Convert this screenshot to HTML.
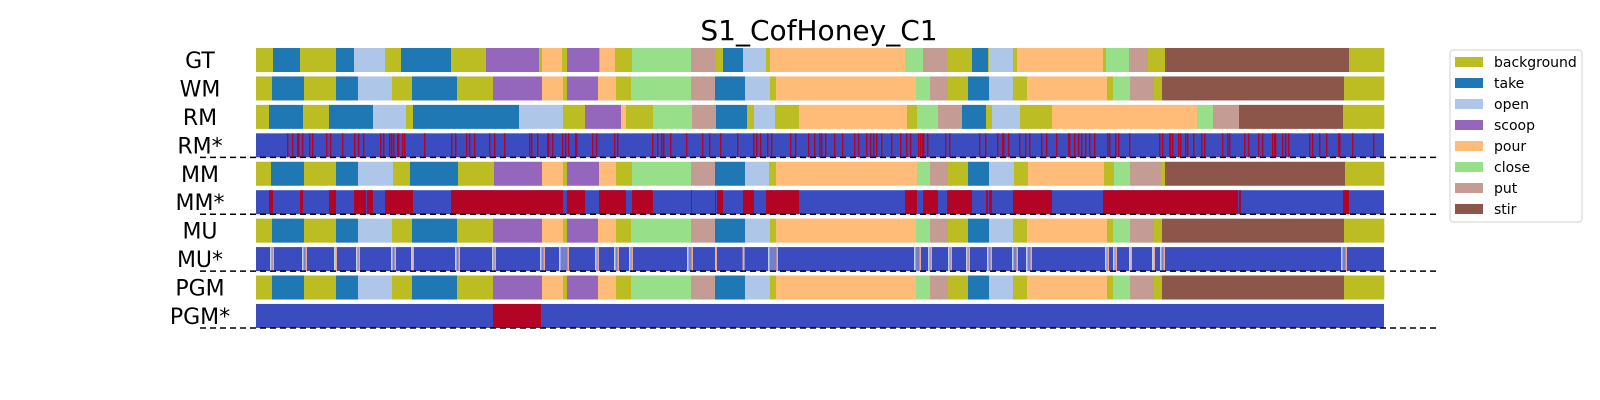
<!DOCTYPE html>
<html><head><meta charset="utf-8"><style>
html,body{margin:0;padding:0;background:#fff;}
svg{display:block;font-family:"DejaVu Sans","Liberation Sans",sans-serif;}
</style></head><body>
<svg id="chart" width="1600" height="400" viewBox="0 0 1600 400">
<text x="819" y="40" font-size="28" text-anchor="middle" fill="#000">S1_CofHoney_C1</text>
<g id="rows"></g>
<g id="legend"></g>
</svg>
<script>
const classNames = ["background","take","open","scoop","pour","close","put","stir"];
const classColors = ["#bcbd22","#1f77b4","#aec7e8","#9467bd","#ffbb78","#98df8a","#c49c94","#8c564b"];
const rowNames = ["GT","WM","RM","RM*","MM","MM*","MU","MU*","PGM","PGM*"];
const totalFrames = 1128;

const gtStarts = [0,17,44,80,98,129,145,195,230,283,286,306,311,343,344,359,376,435,459,467,487,510,514,649,667,691,716,732,733,757,761,847,850,873,892,909,1093];
const gtLabels = [0,1,0,1,2,0,1,0,3,0,4,0,3,0,4,0,5,6,0,1,2,0,4,5,6,0,1,0,2,0,4,0,5,6,0,7,0];
const wmStarts = [0,16,48,80,102,136,156,201,237,286,307,311,342,360,375,435,459,489,514,520,660,674,692,712,733,757,771,851,857,874,898,906,1088];
const wmLabels = [0,1,0,1,2,0,1,0,3,4,0,3,4,0,5,6,1,2,0,4,5,6,0,1,2,0,4,0,5,6,0,7,0];
const rmStarts = [0,13,47,73,117,150,157,263,307,329,365,370,397,436,460,491,498,519,543,651,661,682,706,730,736,764,796,941,957,983,1087];
const rmLabels = [0,1,0,1,2,0,1,2,0,3,4,0,5,6,1,0,2,0,4,0,5,6,1,0,2,0,4,5,6,7,0];
const mmStarts = [0,15,48,80,102,137,154,202,238,286,307,311,343,360,376,435,459,489,513,520,661,674,692,712,733,758,772,848,858,874,905,909,1089];
const mmLabels = [0,1,0,1,2,0,1,0,3,4,0,3,4,0,5,6,1,2,0,4,5,6,0,1,2,0,4,0,5,6,0,7,0];
const muStarts = wmStarts.slice();
const muLabels = wmLabels.slice();
const pgmStarts = wmStarts.slice();
const pgmLabels = wmLabels.slice();

const rmErrFrames = [31,36,41,42,46,53,56,70,74,86,98,102,107,124,127,133,135,137,141,142,146,148,168,195,199,210,213,218,233,238,248,273,275,281,291,292,296,306,309,312,319,320,336,340,358,361,396,401,405,407,414,430,446,453,464,481,497,500,504,511,515,534,539,552,558,563,565,569,578,586,598,602,610,614,617,620,625,635,644,650,654,662,664,666,667,671,689,693,723,729,741,746,747,752,763,769,773,785,790,800,812,813,818,822,825,829,833,838,851,853,859,862,873,903,906,913,914,916,922,924,929,931,937,945,948,966,971,973,988,992,1002,1006,1016,1018,1019,1026,1029,1032,1053,1056,1063,1070,1082,1083,1096,1117];
const mmErrStart = [13,44,73,98,111,129,195,311,343,376,435,459,461,487,510,649,667,691,730,733,757,847,983,1087];
const mmErrEnd   = [17,47,80,110,117,157,307,329,370,397,436,460,467,498,543,661,682,716,732,736,796,982,985,1093];
const muUncStart = [14,46,78,100,135,155,199,236,284,303,339,358,373,431,459,487,512,658,672,692,710,731,756,770,849,857,873,896,904,1085];
const muUncEnd   = [18,51,81,104,140,158,204,240,289,313,343,363,377,437,461,488,522,665,676,696,714,736,762,776,853,861,876,899,909,1091];
const pgmErrStart = [237];
const pgmErrEnd = [285];

const NS = "http://www.w3.org/2000/svg";
const X0 = 256, X1 = 1384, ROW0 = 48, PITCH = 28.44, RH = 24;
const xs = f => X0 + (f / totalFrames) * (X1 - X0);
const ys = i => ROW0 + i * PITCH;
const rowsG = document.getElementById('rows');
const BLUE = "#3b4cc0", RED = "#b40426";

function mk(tag, attrs, parent) {
  const e = document.createElementNS(NS, tag);
  for (const k in attrs) e.setAttribute(k, attrs[k]);
  parent.appendChild(e);
  return e;
}

function drawLabel(i) {
  const t = mk('text', {x: 200, y: ys(i) + RH/2 + 8, 'font-size': 22, 'text-anchor': 'middle', fill: '#000'}, rowsG);
  t.textContent = rowNames[i];
  
  
}

function drawSeg(i, starts, labels) {
  const g = mk('g', {}, rowsG);
  
  
  for (let k = 0; k < starts.length; k++) {
    const s = starts[k], e = k + 1 < starts.length ? starts[k+1] : totalFrames;
    const r = mk('rect', {x: xs(s), y: ys(i), width: Math.max(0.5, xs(e) - xs(s)) + 0.3, height: RH, fill: classColors[labels[k]]}, g);
    
    
  }
}

function drawStarBase(i) {
  const g = mk('g', {}, rowsG);
  
  
  const r = mk('rect', {x: xs(0), y: ys(i), width: xs(totalFrames) - xs(0), height: RH, fill: BLUE}, g);
  
  
  const l = mk('line', {x1: 200, x2: 1440, y1: ys(i) + RH, y2: ys(i) + RH, stroke: '#000', 'stroke-width': 1.5, 'stroke-dasharray': '6,4'}, rowsG);
  
  
  return g;
}

function drawSpans(g, i, st, en, color) {
  for (let k = 0; k < st.length; k++) {
    const r = mk('rect', {x: xs(st[k]), y: ys(i), width: xs(en[k]) - xs(st[k]), height: RH, fill: color}, g);
    
    
  }
}

for (let i = 0; i < rowNames.length; i++) drawLabel(i);
drawSeg(0, gtStarts, gtLabels);
drawSeg(1, wmStarts, wmLabels);
drawSeg(2, rmStarts, rmLabels);
let g3 = drawStarBase(3);
for (const f of rmErrFrames) {
  const r = mk('rect', {x: xs(f), y: ys(3), width: 1.4, height: RH, fill: RED}, g3);
  
  
}
drawSeg(4, mmStarts, mmLabels);
let g5 = drawStarBase(5);
drawSpans(g5, 5, mmErrStart, mmErrEnd, RED);
drawSeg(6, muStarts, muLabels);
let g7 = drawStarBase(7);
for (let k = 0; k < muUncStart.length; k++) {
  const a = muUncStart[k], b = muUncEnd[k];
  const r1 = mk('rect', {x: xs(a), y: ys(7), width: 1.5, height: RH, fill: '#b9d0f9'}, g7);
  
  
  const r3 = mk('rect', {x: xs(a) + 1.5, y: ys(7), width: Math.max(0, xs(b) - xs(a) - 3), height: RH, fill: '#e8e0dc', opacity: 0.35}, g7);
  
  
  const r2 = mk('rect', {x: xs(b) - 1.5, y: ys(7), width: 1.5, height: RH, fill: '#f4a582'}, g7);
  
  
}
drawSeg(8, pgmStarts, pgmLabels);
let g9 = drawStarBase(9);
drawSpans(g9, 9, pgmErrStart, pgmErrEnd, RED);

// legend
const lg = document.getElementById('legend');
const box = mk('rect', {x: 1450, y: 50, width: 132, height: 172, rx: 3, fill: '#fff', stroke: '#d0d0d0', 'stroke-width': 1}, lg);


for (let k = 0; k < classNames.length; k++) {
  const cy = 62 + k * 21;
  const eg = mk('g', {}, lg);
  
  
  const sw = mk('rect', {x: 1455, y: cy - 5, width: 28, height: 10, fill: classColors[k]}, eg);
  
  
  const t = mk('text', {x: 1494, y: cy + 5, 'font-size': 14, fill: '#000'}, eg);
  t.textContent = classNames[k];
  
  
}
</script>
</body></html>
